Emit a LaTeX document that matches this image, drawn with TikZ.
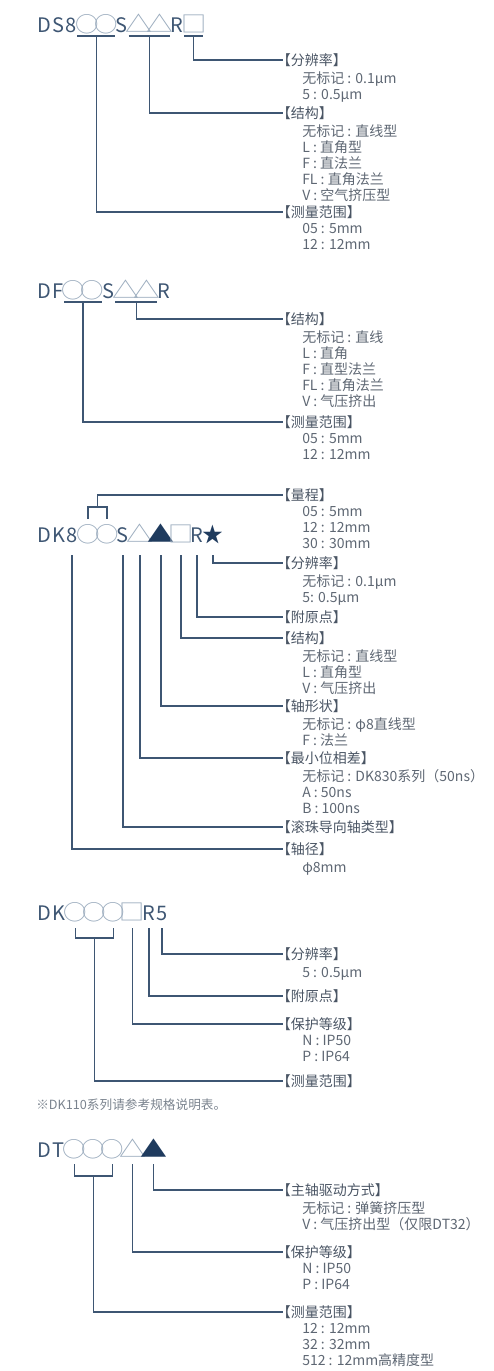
\documentclass[tikz,border=0pt]{standalone}
\usepackage{fontspec}
\usepackage{graphicx}
\usetikzlibrary{calc}
\setmainfont{Noto Sans CJK SC}
\newfontfamily\cjk{Noto Sans CJK SC}
\definecolor{codecol}{HTML}{3E5673}
\definecolor{symcol}{HTML}{9AABBD}
\definecolor{solidcol}{HTML}{1F3B5E}
\definecolor{linecol}{HTML}{3E5673}
\definecolor{headcol}{HTML}{4A5564}
\definecolor{txtcol}{HTML}{5E6773}
\definecolor{notecol}{HTML}{7A838E}
% simboli del codice: colore, larghezza, scala x, scala y, carattere
\newcommand\mkglyph[5]{{\cjk\fontsize{13}{15}\selectfont\color{#1}\makebox[#2][c]{\scalebox{#3}[#4]{#5}}}}
\newcommand\mkO{\mkglyph{symcol}{13.4pt}{1.35}{1.25}{○}}
\newcommand\mkT{\mkglyph{symcol}{14.8pt}{1.55}{1.3}{△}}
\newcommand\mkTb{\mkglyph{solidcol}{14.8pt}{1.55}{1.3}{▲}}
\newcommand\mkQ{\mkglyph{symcol}{13.2pt}{1.45}{1.3}{□}}
\newcommand\mkS{\mkglyph{solidcol}{12.2pt}{1.2}{1.22}{★}}
\begin{document}
\begin{tikzpicture}[x=0.75pt, y=-0.75pt,
		code/.style={font=\cjk\fontsize{15}{17}\selectfont, text=codecol, inner ysep=0pt, inner xsep=0.25pt, anchor=base west},
		start/.style={inner sep=0pt, anchor=base west},
		link/.style={draw=linecol, line width=1.1pt},
		head/.style={font=\fontsize{10.5}{12}\selectfont, text=headcol, inner sep=0pt, anchor=west,
			execute at begin node=\hspace*{-0.45em}},
		detail/.style={font=\fontsize{10.5}{12}\selectfont, text=txtcol, inner sep=0pt, anchor=north west,
			align=left, execute at begin node=\rule{0pt}{9.2pt}}]
		\useasboundingbox (0,0) rectangle (493,1371);
		
		% DS8
		\node[start] (a0) at (35,32) {};
		\foreach \t [count=\i, remember=\i as \j (initially 0)] in {D,S,8,\mkO,\mkO,S,\mkT,\mkT,R,\mkQ}
			\node[code] (a\i) at (a\j.base east) {\t};
		\draw[link] ($(a4.base west)+(0,4)$) -- ($(a5.base east)+(0,4)$);
		\draw[link] ($(a7.base west)+(0,4)$) -- ($(a8.base east)+(0,4)$);
		\draw[link] ($(a10.base west)+(0,4)$) -- ($(a10.base east)+(0,4)$);
		
		\node[head] (h11) at (283,60) {【分辨率】};
		\node[detail] (d11) at ($(h11.west)+(19,11)$) {无标记 : 0.1μm\\5 : 0.5μm};
		\node[head] (h12) at (283,113) {【结构】};
		\node[detail] (d12) at ($(h12.west)+(19,11)$) {无标记 : 直线型\\L : 直角型\\F : 直法兰\\FL : 直角法兰\\V : 空气挤压型};
		\node[head] (h13) at (283,212) {【测量范围】};
		\node[detail] (d13) at ($(h13.west)+(19,11)$) {05 : 5mm\\12 : 12mm};
		
		\draw[link] ($(a10.base)+(0,4)$) |- (h11.west);
		\draw[link] ($(a7.base east)+(0,4)$) |- (h12.west);
		\draw[link] ($(a4.base east)+(0,4)$) |- (h13.west);
		
		% DF
		\node[start] (b0) at (35,298) {};
		\foreach \t [count=\i, remember=\i as \j (initially 0)] in {D,F,\mkO,\mkO,S,\mkT,\mkT,R}
			\node[code] (b\i) at (b\j.base east) {\t};
		\draw[link] ($(b3.base west)+(0,4)$) -- ($(b4.base east)+(0,4)$);
		\draw[link] ($(b6.base west)+(0,4)$) -- ($(b7.base east)+(0,4)$);
		
		\node[head] (h21) at (283,319) {【结构】};
		\node[detail] (d21) at ($(h21.west)+(19,11)$) {无标记 : 直线\\L : 直角\\F : 直型法兰\\FL : 直角法兰\\V : 气压挤出};
		\node[head] (h22) at (283,422) {【测量范围】};
		\node[detail] (d22) at ($(h22.west)+(19,11)$) {05 : 5mm\\12 : 12mm};
		
		\draw[link] ($(b6.base east)+(0,4)$) |- (h21.west);
		\draw[link] ($(b3.base east)+(0,4)$) |- (h22.west);
		
		% DK8
		\node[start] (c0) at (35,542) {};
		\foreach \t [count=\i, remember=\i as \j (initially 0)] in {D,K,8,\mkO,\mkO,S,\mkT,\mkTb,\mkQ,R,\mkS}
			\node[code] (c\i) at (c\j.base east) {\t};
		
		\node[head] (h31) at (283,495) {【量程】};
		\node[detail] (d31) at ($(h31.west)+(19,11)$) {05 : 5mm\\12 : 12mm\\30 : 30mm};
		\node[head] (h32) at (283,563) {【分辨率】};
		\node[detail] (d32) at ($(h32.west)+(19,11)$) {无标记 : 0.1μm\\5: 0.5μm};
		\node[head] (h33) at (283,617) {【附原点】};
		\node[head] (h34) at (283,638) {【结构】};
		\node[detail] (d34) at ($(h34.west)+(19,11)$) {无标记 : 直线型\\L : 直角型\\V : 气压挤出};
		\node[head] (h35) at (283,706) {【轴形状】};
		\node[detail] (d35) at ($(h35.west)+(19,11)$) {无标记 : φ8直线型\\F : 法兰};
		\node[head] (h36) at (283,758) {【最小位相差】};
		\node[detail] (d36) at ($(h36.west)+(19,11)$) {无标记 : DK830系列（50ns）\\A : 50ns\\B : 100ns};
		\node[head] (h37) at (283,827) {【滚珠导向轴类型】};
		\node[head] (h38) at (283,849) {【轴径】};
		\node[detail] (d38) at ($(h38.west)+(19,11)$) {φ8mm};
		
		\draw[link] ($(c4.base)+(0,-23)$) |- ($(c5.base)+(0,-35)$) -- ($(c5.base)+(0,-23)$);
		\draw[link] ($(c4.base east)+(0,-35)$) |- (h31.west);
		\foreach \n/\h in {c11/h32, c10/h33, c9/h34, c8/h35, c7/h36, c6/h37, c3/h38}
			\draw[link] ($(\n.base)+(0,13)$) |- (\h.west);
		
		% DK R5
		\node[start] (e0) at (35,920) {};
		\foreach \t [count=\i, remember=\i as \j (initially 0)] in {D,K,\mkO,\mkO,\mkO,\mkQ,R,5}
			\node[code] (e\i) at (e\j.base east) {\t};
		
		\node[head] (h41) at (283,954) {【分辨率】};
		\node[detail] (d41) at ($(h41.west)+(19,11)$) {5 : 0.5μm};
		\node[head] (h42) at (283,996) {【附原点】};
		\node[head] (h43) at (283,1024) {【保护等级】};
		\node[detail] (d43) at ($(h43.west)+(19,11)$) {N : IP50\\P : IP64};
		\node[head] (h44) at (283,1081) {【测量范围】};
		\node[font=\fontsize{9.5}{12}\selectfont, text=notecol, inner sep=0pt, anchor=west] (note) at (36,1105) {※DK110系列请参考规格说明表。};
		
		\draw[link] ($(e3.base)+(0,8)$) |- ($(e5.base)+(0,18)$) -- ($(e5.base)+(0,8)$);
		\draw[link] ($(e4.base)+(0,18)$) |- (h44.west);
		\foreach \n/\h in {e8/h41, e7/h42, e6/h43}
			\draw[link] ($(\n.base)+(0,8)$) |- (\h.west);
		
		% DT
		\node[start] (f0) at (35,1157) {};
		\foreach \t [count=\i, remember=\i as \j (initially 0)] in {D,T,\mkO,\mkO,\mkO,\mkT,\mkTb}
			\node[code] (f\i) at (f\j.base east) {\t};
		
		\node[head] (h51) at (283,1190) {【主轴驱动方式】};
		\node[detail] (d51) at ($(h51.west)+(19,11)$) {无标记 : 弹簧挤压型\\V : 气压挤出型（仅限DT32）};
		\node[head] (h52) at (283,1252) {【保护等级】};
		\node[detail] (d52) at ($(h52.west)+(19,11)$) {N : IP50\\P : IP64};
		\node[head] (h53) at (283,1312) {【测量范围】};
		\node[detail] (d53) at ($(h53.west)+(19,11)$) {12 : 12mm\\32 : 32mm\\512 : 12mm高精度型};
		
		\draw[link] ($(f3.base)+(0,7)$) |- ($(f5.base)+(0,19)$) -- ($(f5.base)+(0,7)$);
		\draw[link] ($(f4.base)+(0,19)$) |- (h53.west);
		\foreach \n/\h in {f7/h51, f6/h52}
			\draw[link] ($(\n.base)+(0,7)$) |- (\h.west);
		
	\end{tikzpicture}
\end{document}
